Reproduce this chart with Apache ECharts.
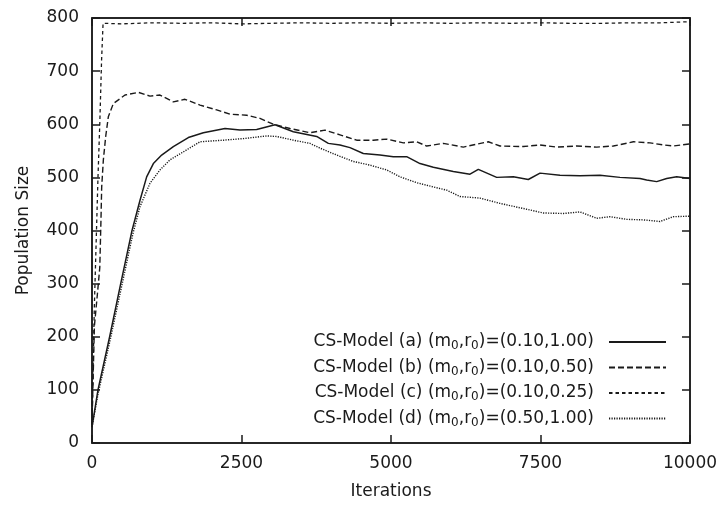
<!DOCTYPE html>
<html>
<head>
<meta charset="utf-8">
<script src="https://cdn.jsdelivr.net/npm/echarts@6/dist/echarts.min.js"></script>
<style>html,body{margin:0;padding:0;background:#fff}#c{width:723px;height:507px}</style>
</head>
<body>
<div id="c"></div>
<script>
// ---- data ----
var seriesNames = [
  'CS-Model (a) (m0,r0)=(0.10,1.00)',
  'CS-Model (b) (m0,r0)=(0.10,0.50)',
  'CS-Model (c) (m0,r0)=(0.10,0.25)',
  'CS-Model (d) (m0,r0)=(0.50,1.00)'
];
var xTicks = [0, 2500, 5000, 7500, 10000];
var yTicks = [0, 100, 200, 300, 400, 500, 600, 700, 800];

var aIter = [0,100,295,480,665,803,914,1026,1165,1360,1611,1862,2224,2475,2754,3060,3367,3757,3952,4147,4314,4537,4816,5039,5262,5485,5708,6042,6321,6460,6767,7046,7296,7492,7826,8161,8495,8829,9164,9275,9443,9610,9777,10000];
var aPop  = [30,100,200,300,398,457,501,526,542,558,575,584,592,589,590,599,586,577,564,561,556,545,542,539,539,526,519,511,506,515,500,501,496,508,504,503,504,500,498,495,492,498,501,498];

var bIter = [0,40,90,130,150,162,190,229,273,357,552,775,970,1137,1360,1555,1806,2085,2308,2587,2809,3032,3311,3645,3896,4147,4426,4704,4928,5206,5429,5596,5875,6209,6627,6823,7213,7492,7771,8105,8440,8718,9053,9331,9554,9721,10000];
var bPop  = [35,220,280,330,420,482,533,577,614,639,655,660,653,655,642,647,636,627,619,617,611,600,592,584,589,580,570,570,572,565,567,559,564,557,567,559,558,561,557,559,557,559,567,565,561,559,563];

var cIter = [0,20,40,70,100,130,160,185,500,1000,1500,2000,2500,3000,3500,4000,4500,5000,5500,6000,6500,7000,7500,8000,8500,9000,9500,10000];
var cPop  = [35,150,260,380,500,600,720,790,789,791,790,791,789,790,791,790,791,790,791,790,791,790,791,790,790,791,791,793];

var dIter = [0,100,300,490,680,803,970,1137,1304,1527,1806,2196,2530,2921,3088,3367,3645,3813,4092,4370,4649,4928,5151,5429,5708,5931,6154,6488,6823,7269,7547,7882,8161,8440,8662,8941,9220,9498,9721,10000];
var dPop  = [30,92,192,292,392,445,489,514,533,548,567,570,573,578,577,570,564,555,542,530,523,514,501,490,482,476,464,461,451,440,433,432,435,423,426,421,420,417,426,427];

function pairs(xs, ys){ return xs.map(function(x,i){ return [x, ys[i]]; }); }

var FONT = 'DejaVu Sans';
var FS = 17;
var INK = '#1a1a1a';
var chart = echarts.init(document.getElementById('c'), null, {renderer:'canvas'});

function axisCommon(showLabel){
  return {
    type:'value',
    axisLine:{show:true, onZero:false, lineStyle:{color:INK, width:1.5}},
    axisTick:{show:true, inside:true, length:8, lineStyle:{color:INK, width:1.5}},
    splitLine:{show:false},
    axisLabel:{show:showLabel, color:INK, fontSize:FS, fontFamily:FONT,
      formatter:function(v){ return String(v); }}
  };
}

var xBottom = Object.assign(axisCommon(true), {
  position:'bottom', min:0, max:10000, interval:2500,
  name:'Iterations', nameLocation:'middle', nameGap:40,
  nameTextStyle:{color:INK, fontSize:FS, fontFamily:FONT}
});
xBottom.axisLabel.margin = 12;
var xTop = Object.assign(axisCommon(false), {position:'top', min:0, max:10000, interval:2500});
var yLeft = Object.assign(axisCommon(true), {
  position:'left', min:0, max:800, interval:100,
  name:'Population Size', nameLocation:'middle', nameGap:60,
  nameTextStyle:{color:INK, fontSize:FS, fontFamily:FONT}
});
yLeft.axisLabel.margin = 13;
var yRight = Object.assign(axisCommon(false), {position:'right', min:0, max:800, interval:100});

var styles = [
  {type:'solid', width:1.5},
  {type:[6,3], width:1.4},
  {type:[3.5,3], width:1.3},
  {type:[1.2,1.3], width:1.4}
];
var datas = [pairs(aIter,aPop), pairs(bIter,bPop), pairs(cIter,cPop), pairs(dIter,dPop)];

var series = seriesNames.map(function(n,i){
  return {
    name:n, type:'line', xAxisIndex:0, yAxisIndex:0,
    data:datas[i], showSymbol:false, symbol:'none', animation:false,
    lineStyle:{color:INK, width:styles[i].width, type:styles[i].type},
    itemStyle:{color:INK}
  };
});

chart.setOption({
  backgroundColor:'#fff',
  animation:false,
  grid:{left:92, right:33, top:18, bottom:64, show:true, borderColor:INK, borderWidth:1.5, backgroundColor:'transparent'},
  xAxis:[xBottom, xTop],
  yAxis:[yLeft, yRight],
  legend:{
    orient:'vertical', right:56, top:332, padding:0,
    align:'right', itemWidth:57, itemHeight:14, itemGap:5.5,
    selectedMode:false,
    data:seriesNames,
    itemStyle:{opacity:0},
    formatter:function(name){
      return name.replace(/m0/,'m{s|0}').replace(/r0/,'r{s|0}') + '{g|}';
    },
    textStyle:{
      color:INK, fontSize:FS, fontFamily:FONT, lineHeight:20,
      rich:{
        s:{fontSize:12, fontFamily:FONT, color:INK, verticalAlign:'bottom', lineHeight:12},
        g:{width:10}
      }
    }
  },
  series:series
});
</script>
</body>
</html>
